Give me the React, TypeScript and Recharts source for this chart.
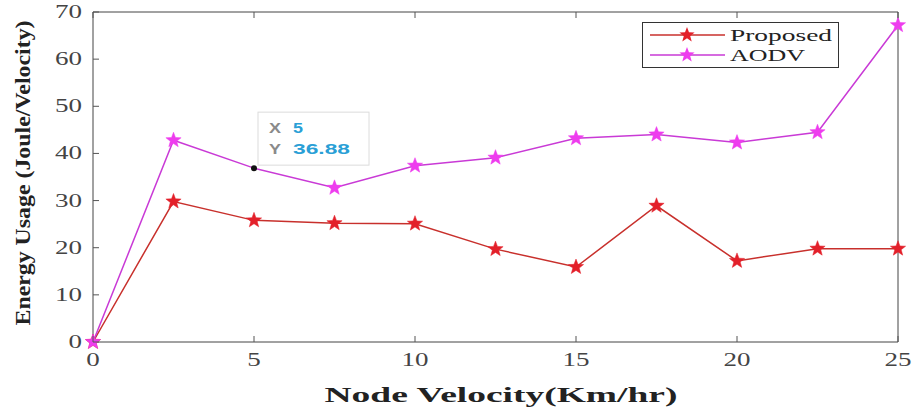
import { Line, LineChart, ReferenceDot, XAxis, YAxis } from 'recharts';

const velocity = [0, 2.5, 5, 7.5, 10, 12.5, 15, 17.5, 20, 22.5, 25];
const proposed = [0, 29.8, 25.8, 25.2, 25.1, 19.7, 15.9, 28.9, 17.2, 19.8, 19.8];
const aodv = [0, 42.8, 36.88, 32.7, 37.4, 39.1, 43.2, 44.0, 42.3, 44.5, 67.2];
const xTicks = [0, 5, 10, 15, 20, 25];
const yTicks = [0, 10, 20, 30, 40, 50, 60, 70];
const tipX = 5;
const tipY = 36.88;

const chartData = velocity.map((v, i) => ({ v, proposed: proposed[i], aodv: aodv[i] }));

const RED = '#e3202a';
const RED_LINE = '#c8302c';
const MAG = '#ee3cee';
const MAG_LINE = '#c93ad6';
const SERIF = '"Liberation Serif", "Times New Roman", serif';
const SANS = '"Liberation Sans", Arial, sans-serif';

const starPath = (cx: number, cy: number, r: number) => {
  const pts: string[] = [];
  for (let i = 0; i < 10; i++) {
    const rad = i % 2 === 0 ? r : r * 0.42;
    const a = -Math.PI / 2 + (i * Math.PI) / 5;
    pts.push(`${(cx + rad * Math.cos(a)).toFixed(2)},${(cy + rad * Math.sin(a)).toFixed(2)}`);
  }
  return `M${pts.join('L')}Z`;
};

const makeStar = (fill: string, skipX?: number) => (props: any) => {
  const { cx, cy, payload, index } = props;
  if (cx == null || cy == null) return <g key={index} />;
  if (skipX !== undefined && payload.v === skipX) return <g key={index} />;
  return <path key={index} d={starPath(cx, cy, 8)} fill={fill} stroke={fill} strokeWidth={0.5} />;
};

// the reference image is stretched sideways, so text is widened with textLength
const tickLen = (v: number) => String(v).length * 13.5;

const XTick = ({ x, y, payload }: any) => (
  <g>
    <line x1={x} x2={x} y1={y} y2={y - 6} stroke="#555" />
    <text
      x={x}
      y={y + 24}
      textAnchor="middle"
      fontFamily={SERIF}
      fontSize={18}
      fill="#444"
      textLength={tickLen(payload.value)}
      lengthAdjust="spacingAndGlyphs"
    >
      {payload.value}
    </text>
  </g>
);

const YTick = ({ x, y, payload }: any) => (
  <g>
    <line x1={x} x2={x + 6} y1={y} y2={y} stroke="#555" />
    <text
      x={x - 11}
      y={y + 6}
      textAnchor="end"
      fontFamily={SERIF}
      fontSize={18}
      fill="#444"
      textLength={tickLen(payload.value)}
      lengthAdjust="spacingAndGlyphs"
    >
      {payload.value}
    </text>
  </g>
);

const TopTick = ({ x, y }: any) => <line x1={x} x2={x} y1={y} y2={y + 6} stroke="#555" />;
const RightTick = ({ x, y }: any) => <line x1={x} x2={x - 6} y1={y} y2={y} stroke="#555" />;

const DataTip = (props: any) => {
  const { cx, cy } = props;
  return (
    <g>
      <rect x={cx + 4} y={cy - 56} width={111} height={53} fill="#fff" stroke="#dcdcdc" />
      <text x={cx + 15} y={cy - 35} fontFamily={SANS} fontSize={14} fontWeight="bold" fill="#8a8a8a" textLength={12} lengthAdjust="spacingAndGlyphs">
        X
      </text>
      <text x={cx + 39} y={cy - 35} fontFamily={SANS} fontSize={14} fontWeight="bold" fill="#2a9fd6" textLength={10} lengthAdjust="spacingAndGlyphs">
        {tipX}
      </text>
      <text x={cx + 15} y={cy - 14} fontFamily={SANS} fontSize={14} fontWeight="bold" fill="#8a8a8a" textLength={12} lengthAdjust="spacingAndGlyphs">
        Y
      </text>
      <text x={cx + 39} y={cy - 14} fontFamily={SANS} fontSize={14} fontWeight="bold" fill="#2a9fd6" textLength={57} lengthAdjust="spacingAndGlyphs">
        {tipY}
      </text>
      <circle cx={cx} cy={cy} r={3} fill="#111" />
    </g>
  );
};

const legendItems = [
  { name: 'Proposed', line: RED_LINE, star: RED, width: 102 },
  { name: 'AODV', line: MAG_LINE, star: MAG, width: 75 },
];

const LegendBox = () => (
  <svg style={{ position: 'absolute', left: 0, top: 0 }} width={916} height={80}>
    <rect x={642.5} y={22.5} width={196} height={45} fill="#fff" stroke="#333" />
    {legendItems.map((s, i) => {
      const cy = 35 + i * 20;
      return (
        <g key={s.name}>
          <line x1={650} x2={725} y1={cy} y2={cy} stroke={s.line} strokeWidth={1.5} />
          <path d={starPath(687, cy, 8)} fill={s.star} />
          <text
            x={730}
            y={cy + 6}
            fontFamily={SERIF}
            fontSize={17}
            fill="#222"
            textLength={s.width}
            lengthAdjust="spacingAndGlyphs"
          >
            {s.name}
          </text>
        </g>
      );
    })}
  </svg>
);

const YLabel = () => (
  <text
    x={30}
    y={173}
    transform="rotate(-90 30 173)"
    textAnchor="middle"
    fontFamily={SERIF}
    fontWeight="bold"
    fontSize={21}
    fill="#222"
    textLength={305}
    lengthAdjust="spacingAndGlyphs"
  >
    Energy Usage (Joule/Velocity)
  </text>
);

const XLabel = () => (
  <text
    x={501}
    y={402}
    textAnchor="middle"
    fontFamily={SERIF}
    fontWeight="bold"
    fontSize={22}
    fill="#222"
    textLength={353}
    lengthAdjust="spacingAndGlyphs"
  >
    Node Velocity(Km/hr)
  </text>
);

export default function App() {
  return (
    <div style={{ position: 'relative', width: 916, height: 416, background: '#fff' }}>
      <style>{'body{margin:0}'}</style>
      <LineChart width={916} height={416} data={chartData} margin={{ top: 11, right: 17, bottom: 0, left: 0 }}>
        <XAxis
          dataKey="v"
          type="number"
          domain={[0, 25]}
          ticks={xTicks}
          height={74}
          tickSize={0}
          tickMargin={0}
          tickLine={false}
          tick={<XTick />}
          stroke="#444"
          label={<XLabel />}
        />
        <XAxis
          xAxisId="t"
          orientation="top"
          dataKey="v"
          type="number"
          domain={[0, 25]}
          ticks={xTicks}
          height={1}
          tickSize={0}
          tickMargin={0}
          tickLine={false}
          tick={<TopTick />}
          stroke="#444"
        />
        <YAxis
          type="number"
          domain={[0, 70]}
          ticks={yTicks}
          width={93}
          tickSize={0}
          tickMargin={0}
          tickLine={false}
          tick={<YTick />}
          stroke="#444"
          label={<YLabel />}
        />
        <YAxis
          yAxisId="r"
          orientation="right"
          type="number"
          domain={[0, 70]}
          ticks={yTicks}
          width={1}
          tickSize={0}
          tickMargin={0}
          tickLine={false}
          tick={<RightTick />}
          stroke="#444"
        />
        <Line
          dataKey="proposed"
          name="Proposed"
          stroke={RED_LINE}
          strokeWidth={1.5}
          dot={makeStar(RED)}
          activeDot={false}
          isAnimationActive={false}
        />
        <Line
          dataKey="aodv"
          name="AODV"
          stroke={MAG_LINE}
          strokeWidth={1.5}
          dot={makeStar(MAG, tipX)}
          activeDot={false}
          isAnimationActive={false}
        />
        <ReferenceDot x={tipX} y={tipY} r={3} shape={DataTip} />
      </LineChart>
      <LegendBox />
    </div>
  );
}
